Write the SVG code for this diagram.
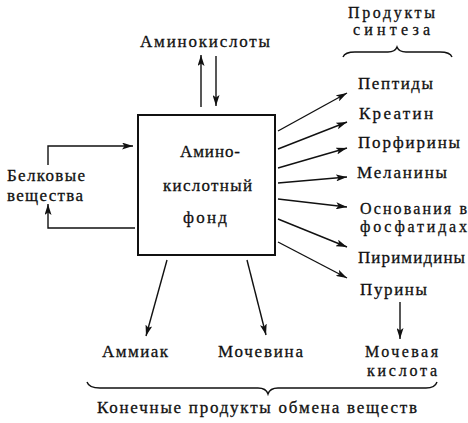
<svg xmlns="http://www.w3.org/2000/svg" width="468" height="423" viewBox="0 0 468 423">
<style>
text{font-family:"Liberation Serif","DejaVu Serif",serif;font-size:17px;fill:#111;stroke:#111;stroke-width:0.3}
text.t{font-size:16px}
.ln{stroke:#111;stroke-width:1.4;fill:none}
.box{stroke:#111;stroke-width:2;fill:#fff}
</style>
<defs>
<marker id="ah" markerUnits="userSpaceOnUse" markerWidth="11" markerHeight="7" refX="11" refY="3.5" orient="auto">
<path d="M0,0 L11,3.5 L0,7 L2.5,3.5 z" fill="#111"/>
</marker>
</defs>
<rect width="468" height="423" fill="#fff"/>
<g id="connectors">
<line class="ln" x1="201" y1="107" x2="201" y2="55" marker-end="url(#ah)"/>
<line class="ln" x1="216" y1="56" x2="216" y2="106" marker-end="url(#ah)"/>
<line class="ln" x1="278" y1="131" x2="347" y2="93" marker-end="url(#ah)"/>
<line class="ln" x1="278" y1="149" x2="347" y2="122" marker-end="url(#ah)"/>
<line class="ln" x1="278" y1="168" x2="347" y2="148" marker-end="url(#ah)"/>
<line class="ln" x1="278" y1="183" x2="347" y2="177" marker-end="url(#ah)"/>
<line class="ln" x1="278" y1="199" x2="347" y2="207" marker-end="url(#ah)"/>
<line class="ln" x1="278" y1="219" x2="347" y2="247" marker-end="url(#ah)"/>
<line class="ln" x1="278" y1="242" x2="347" y2="278" marker-end="url(#ah)"/>
<line class="ln" x1="167" y1="260" x2="146" y2="336" marker-end="url(#ah)"/>
<line class="ln" x1="247" y1="260" x2="266" y2="335" marker-end="url(#ah)"/>
<line class="ln" x1="400" y1="302" x2="400" y2="339" marker-end="url(#ah)"/>
<path class="ln" d="M48,165 L48,146 L133,146" marker-end="url(#ah)"/>
<path class="ln" d="M135,228 L48,228 L48,204" marker-end="url(#ah)"/>
<path class="ln" d="M343,57 Q345,52 355,52 L388,52 Q395,52 397,47 Q399,52 406,52 L440,52 Q450,52 452,57"/>
<path class="ln" d="M87,382 Q89,388 100,388 L258,388 Q266,388 268,394 Q270,388 278,388 L426,388 Q435,388 437,382"/>
</g>
<g id="fond">
<rect class="box" x="138" y="115" width="137" height="140"/>
<text x="180" y="157" textLength="60" lengthAdjust="spacing">Амино-</text>
<text x="163" y="191" textLength="89" lengthAdjust="spacing">кислотный</text>
<text x="183" y="223" textLength="44" lengthAdjust="spacing">фонд</text>
</g>
<g id="aminokisloty"><text x="140" y="47" textLength="130" lengthAdjust="spacing">Аминокислоты</text></g>
<g id="produkty-sinteza">
<text class="t" x="348" y="18" textLength="87" lengthAdjust="spacing">Продукты</text>
<text class="t" x="353" y="35" textLength="77" lengthAdjust="spacing">синтеза</text>
</g>
<g id="peptidy"><text x="358" y="89" textLength="75" lengthAdjust="spacing">Пептиды</text></g>
<g id="kreatin"><text x="359" y="119" textLength="74" lengthAdjust="spacing">Креатин</text></g>
<g id="porfiriny"><text x="358" y="148" textLength="102" lengthAdjust="spacing">Порфирины</text></g>
<g id="melaniny"><text x="357" y="178" textLength="90" lengthAdjust="spacing">Меланины</text></g>
<g id="osnovaniya">
<text class="t" x="360" y="214" textLength="107" lengthAdjust="spacing">Основания в</text>
<text class="t" x="360" y="232" textLength="107" lengthAdjust="spacing">фосфатидах</text>
</g>
<g id="pirimidiny"><text x="358" y="263" textLength="107" lengthAdjust="spacing">Пиримидины</text></g>
<g id="puriny"><text x="360" y="295" textLength="67" lengthAdjust="spacing">Пурины</text></g>
<g id="ammiak"><text x="102" y="357" textLength="66" lengthAdjust="spacing">Аммиак</text></g>
<g id="mochevina"><text x="218" y="357" textLength="85" lengthAdjust="spacing">Мочевина</text></g>
<g id="mochevaya">
<text class="t" x="365" y="357" textLength="73" lengthAdjust="spacing">Мочевая</text>
<text class="t" x="367" y="376" textLength="70" lengthAdjust="spacing">кислота</text>
</g>
<g id="konechnye"><text x="97" y="413" textLength="320" lengthAdjust="spacing">Конечные продукты обмена веществ</text></g>
<g id="belkovye">
<text x="7" y="181" textLength="78" lengthAdjust="spacing">Белковые</text>
<text x="7" y="201" textLength="76" lengthAdjust="spacing">вещества</text>
</g>
</svg>
